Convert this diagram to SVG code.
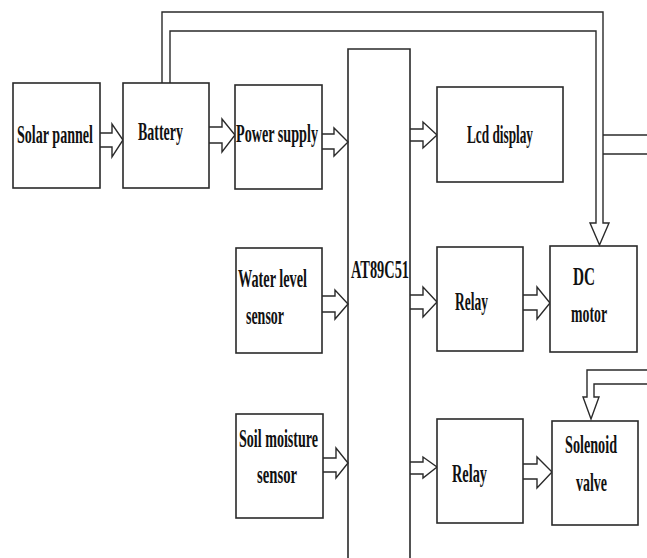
<svg xmlns="http://www.w3.org/2000/svg" width="647" height="558" viewBox="0 0 647 558">
<style>
.box{fill:#fff;stroke:#2a2a2a;stroke-width:1.6}
.ln{fill:none;stroke:#2a2a2a;stroke-width:1.6}
.ar{fill:#fff;stroke:#2a2a2a;stroke-width:1.4;stroke-linejoin:miter}
.t{font-family:"Liberation Serif","Times New Roman",serif;font-weight:bold;font-size:26px;fill:#111}
</style>
<rect width="647" height="558" fill="#fff"/>
<g id="connectors">
<path class="ar" d="M162,83 V12 H603 V223 H609 L599.5,245 L590,223 H596 V31 H170 V83"/>
<line class="ln" x1="603" y1="135" x2="647" y2="135"/>
<line class="ln" x1="603" y1="154" x2="647" y2="154"/>
<path class="ar" d="M647,370 H587 V397 H583 L591,419 L599,397 H594 V384 H647"/>
<polyline class="ar" points="100,133 112,133 112,124 123,140 112,157 112,147 100,147"/>
<polyline class="ar" points="209,127 222,127 222,119 235,135 222,152 222,143 209,143"/>
<polyline class="ar" points="322,134 334,134 334,128 348,142 334,156 334,149 322,149"/>
<polyline class="ar" points="410,129 423,129 423,122 437,135 423,148 423,141 410,141"/>
<polyline class="ar" points="322,296 335,296 335,290 348,304 335,319 335,312 322,312"/>
<polyline class="ar" points="410,295 423,295 423,287 437,302 423,317 423,309 410,309"/>
<polyline class="ar" points="523,295 537,295 537,287 550,303 537,319 537,310 523,310"/>
<polyline class="ar" points="323,458 336,458 336,448 348,463 336,478 336,472 323,472"/>
<polyline class="ar" points="410,462 423,462 423,457 437,467 423,478 423,474 410,474"/>
<polyline class="ar" points="523,464 537,464 537,457 552,472 537,488 537,479 523,479"/>
</g>
<g id="solar">
<rect class="box" x="13" y="83" width="87" height="105"/>
<text class="t" transform="translate(17,143) scale(0.6,1)" textLength="126.7" lengthAdjust="spacingAndGlyphs">Solar pannel</text>
</g>
<g id="battery">
<rect class="box" x="123" y="83" width="86" height="105"/>
<text class="t" transform="translate(138,140) scale(0.6,1)" textLength="75" lengthAdjust="spacingAndGlyphs">Battery</text>
</g>
<g id="power">
<rect class="box" x="235" y="85" width="87" height="104"/>
<text class="t" transform="translate(236,142) scale(0.6,1)" textLength="136.7" lengthAdjust="spacingAndGlyphs">Power supply</text>
</g>
<g id="mcu">
<path class="ln" d="M348,558 V49 H410 V558"/>
<text class="t" transform="translate(351,278) scale(0.6,1)" textLength="96.7" lengthAdjust="spacingAndGlyphs">AT89C51</text>
</g>
<g id="lcd">
<rect class="box" x="437" y="87" width="126" height="95"/>
<text class="t" transform="translate(467,143) scale(0.6,1)" textLength="110" lengthAdjust="spacingAndGlyphs">Lcd display</text>
</g>
<g id="water">
<rect class="box" x="236" y="248" width="86" height="105"/>
<text class="t" transform="translate(238,287) scale(0.6,1)" textLength="115" lengthAdjust="spacingAndGlyphs">Water level</text>
<text class="t" transform="translate(246,324) scale(0.6,1)" textLength="63.3" lengthAdjust="spacingAndGlyphs">sensor</text>
</g>
<g id="relay1">
<rect class="box" x="437" y="247" width="86" height="104"/>
<text class="t" transform="translate(455,310) scale(0.6,1)" textLength="55" lengthAdjust="spacingAndGlyphs">Relay</text>
</g>
<g id="dcmotor">
<rect class="box" x="550" y="246" width="87" height="106"/>
<text class="t" transform="translate(573,285) scale(0.6,1)" textLength="36.7" lengthAdjust="spacingAndGlyphs">DC</text>
<text class="t" transform="translate(571,322) scale(0.6,1)" textLength="60" lengthAdjust="spacingAndGlyphs">motor</text>
</g>
<g id="soil">
<rect class="box" x="236" y="414" width="87" height="104"/>
<text class="t" transform="translate(239,447) scale(0.6,1)" textLength="131.7" lengthAdjust="spacingAndGlyphs">Soil moisture</text>
<text class="t" transform="translate(257,483) scale(0.6,1)" textLength="66.7" lengthAdjust="spacingAndGlyphs">sensor</text>
</g>
<g id="relay2">
<rect class="box" x="437" y="419" width="86" height="104"/>
<text class="t" transform="translate(452,482) scale(0.6,1)" textLength="58.3" lengthAdjust="spacingAndGlyphs">Relay</text>
</g>
<g id="solenoid">
<rect class="box" x="552" y="421" width="86" height="104"/>
<text class="t" transform="translate(565,453) scale(0.6,1)" textLength="86.7" lengthAdjust="spacingAndGlyphs">Solenoid</text>
<text class="t" transform="translate(576,491) scale(0.6,1)" textLength="51.7" lengthAdjust="spacingAndGlyphs">valve</text>
</g>
</svg>
